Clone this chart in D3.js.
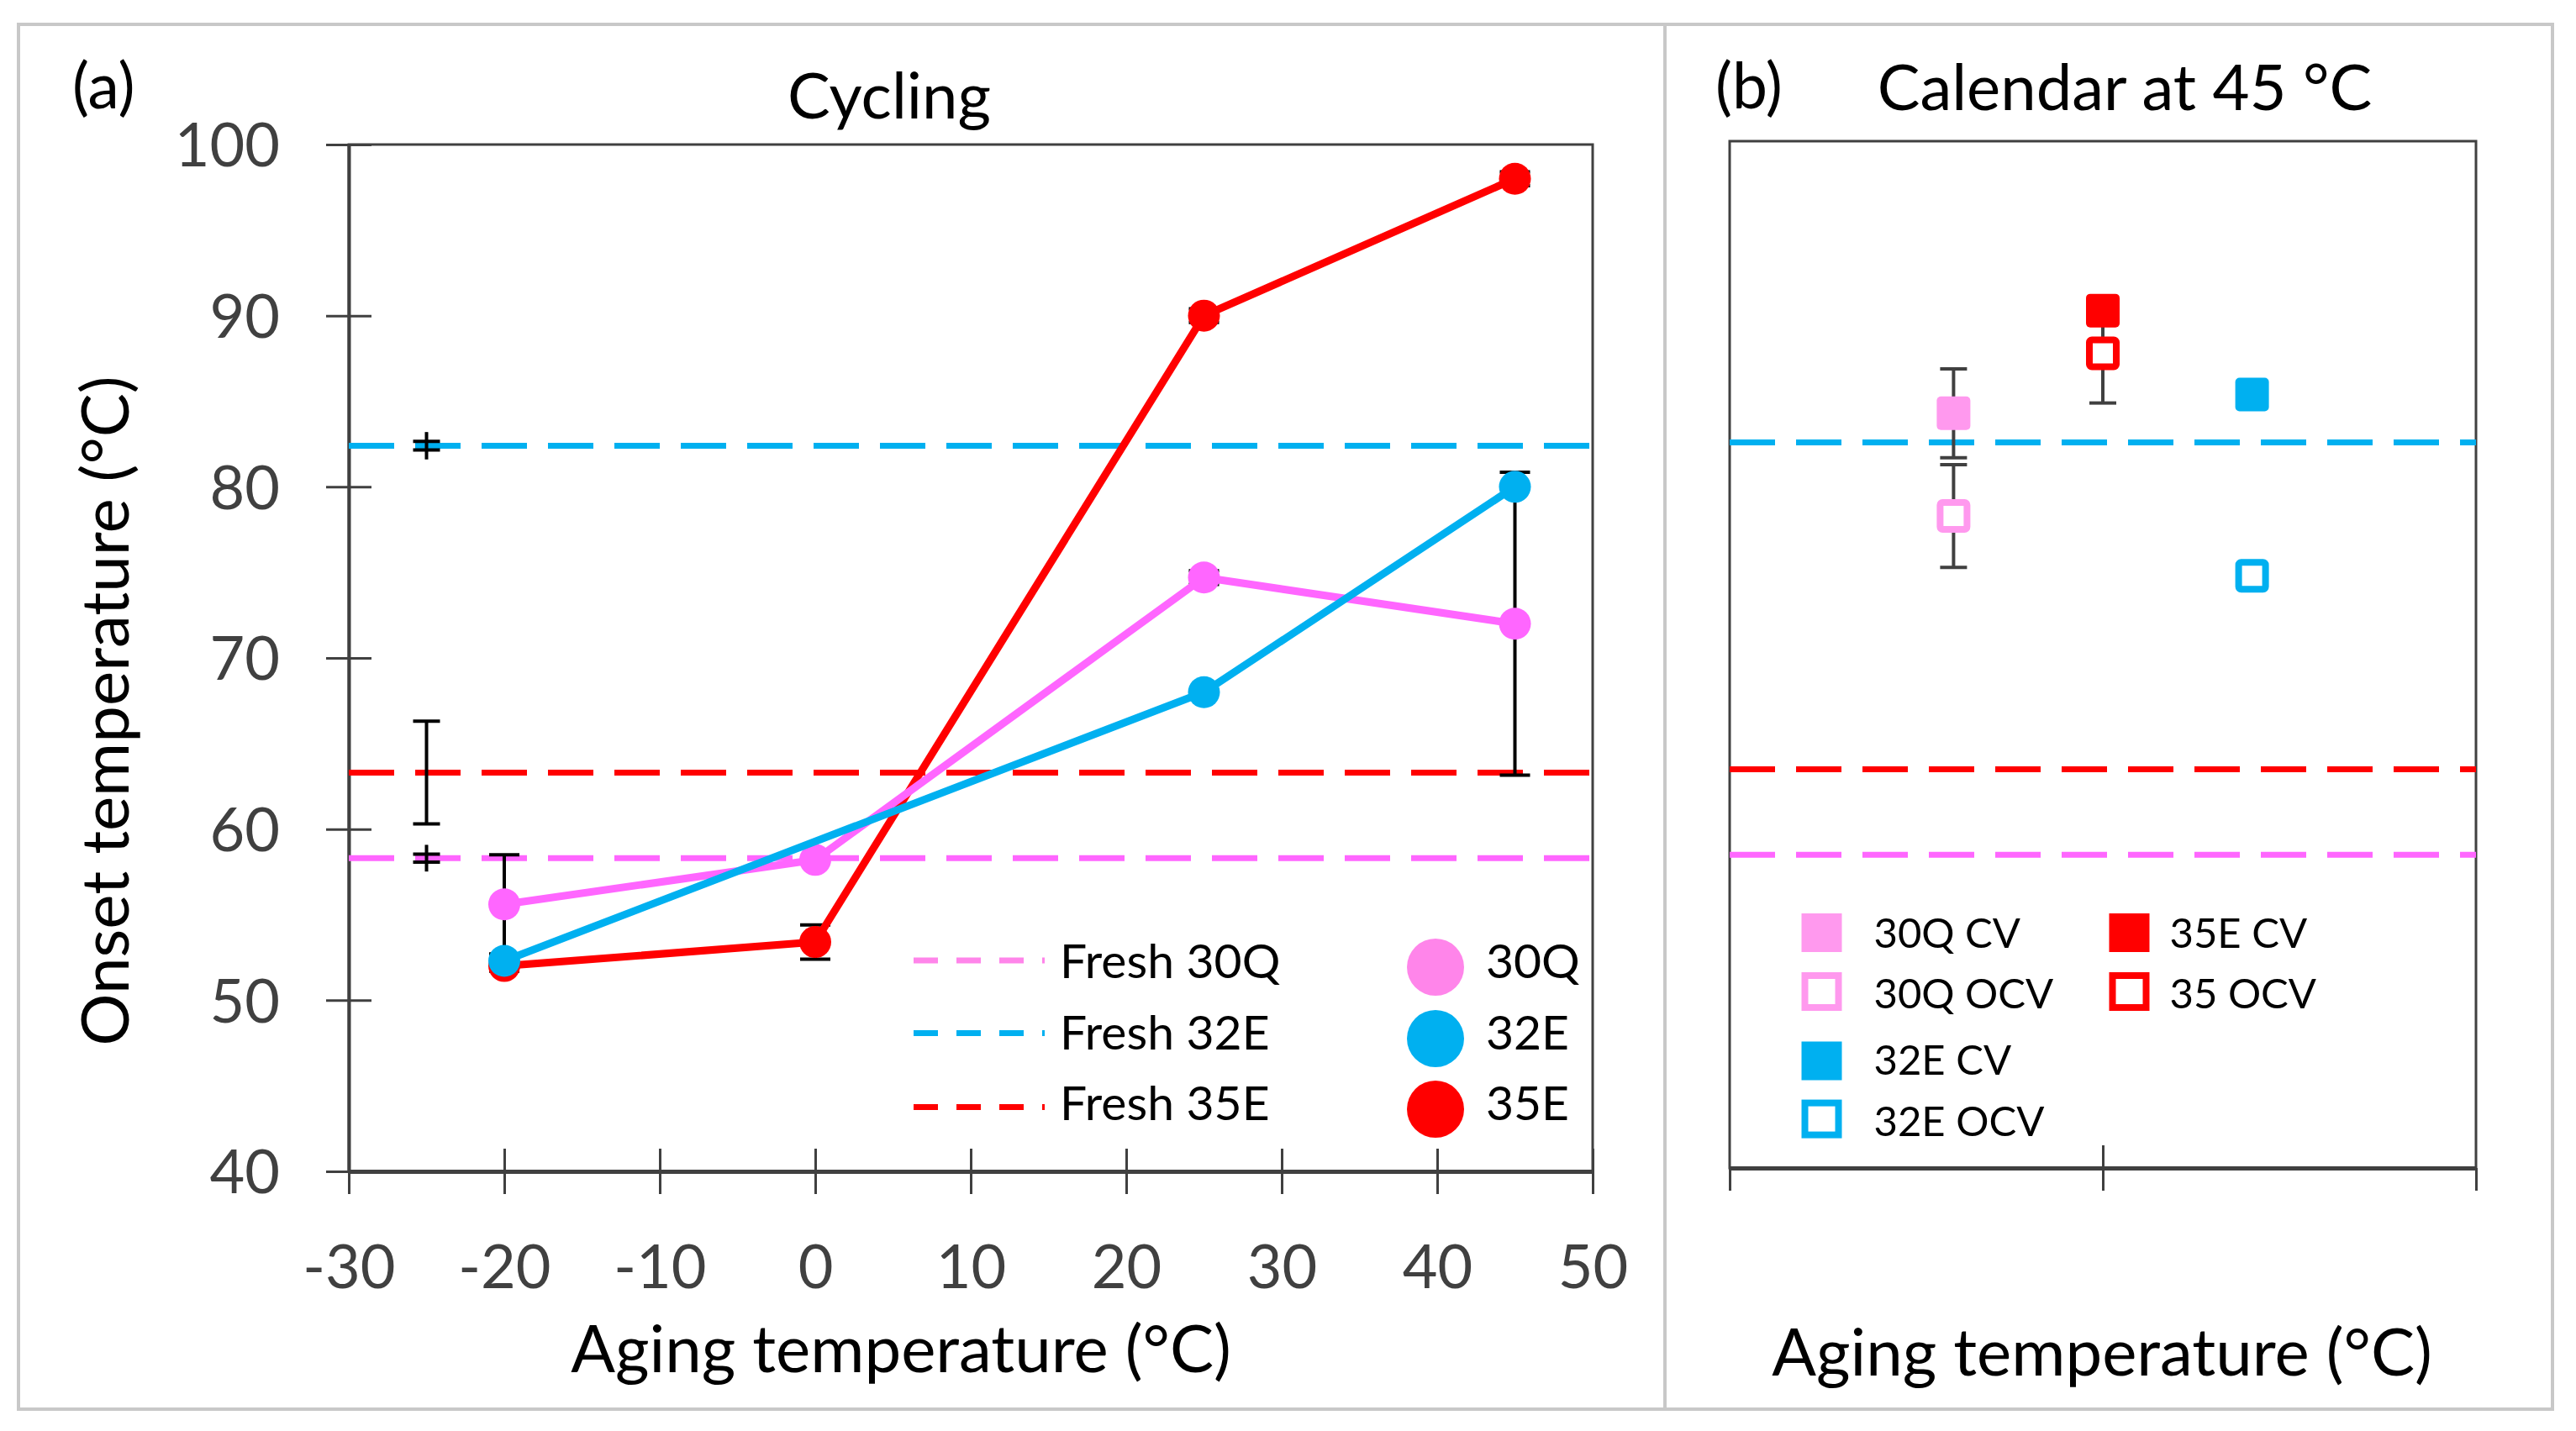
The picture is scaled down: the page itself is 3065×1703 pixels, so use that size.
<!DOCTYPE html>
<html>
<head>
<meta charset="utf-8">
<script src="https://cdn.jsdelivr.net/npm/d3@7"></script>
<style>
  body { margin: 0; background: #fff; }
  svg { display: block; font-family: Lato, "Open Sans", sans-serif; }
</style>
</head>
<body>
<svg id="chart" width="3065" height="1703"></svg>
<script>
// ---- data ----
const xTicks = [-30, -20, -10, 0, 10, 20, 30, 40, 50];
const yTicks = [40, 50, 60, 70, 80, 90, 100];

// (a) cycling, onset temperature vs aging temperature
const agingTemp = [-20, 0, 25, 45];
const onset30Q = [55.6, 58.2, 74.7, 72.0];
const onset32E = [52.3, null, 68.0, 80.0];
const onset35E = [52.0, 53.4, 90.0, 98.0];
const err30Q = [2.9, 0, 0.4, 8.85];
const err32E = [1.0, 0, 0.4, 0];
const err35E = [0.3, 1.0, 0.4, 0.4];

// fresh cells (dashed reference lines), error bars drawn at x = -25
const freshNames = ["Fresh 30Q", "Fresh 32E", "Fresh 35E"];
const freshOnset = [58.3, 82.4, 63.3];
const freshErrCap = [0.23, 0.25, 3.0];
const freshErrLine = [0.78, 0.8, 3.0];
const freshX = -25;

// (b) calendar at 45 °C
const calCells = ["30Q", "35E", "32E"];
const calPos = [0.6, 1.0, 1.4];
const calCV = [84.1, 90.1, 85.2];
const calOCV = [78.1, 87.6, 74.6];
const calCVErr = [2.6, 0, 0];
const calOCVErr = [3.0, 2.9, 0];
const calLegend = ["30Q CV", "30Q OCV", "32E CV", "32E OCV", "35E CV", "35 OCV"];

const pink = "#ff66ff", pinkLight = "#ff85ea", pinkCal = "#ff99ee";
const blue = "#00b0f0", red = "#ff0000", axisCol = "#404040";
const colorOf = { "30Q": pink, "32E": blue, "35E": red };

const svg = d3.select("#chart");

// outer frame and divider
svg.append("rect").attr("x", 22).attr("y", 29).attr("width", 3015).attr("height", 1648)
  .attr("fill", "none").attr("stroke", "#c8c8c8").attr("stroke-width", 4);
svg.append("line").attr("x1", 1981).attr("x2", 1981).attr("y1", 29).attr("y2", 1677)
  .attr("stroke", "#c8c8c8").attr("stroke-width", 4);

// ================= panel (a) =================
const xA = d3.scaleLinear().domain([-30, 50]).range([415, 1895]);
const yA = d3.scaleLinear().domain([40, 100]).range([1394, 172]);

svg.append("rect").attr("x", xA(-30)).attr("y", yA(100))
  .attr("width", xA(50) - xA(-30)).attr("height", yA(40) - yA(100))
  .attr("fill", "none").attr("stroke", axisCol).attr("stroke-width", 3);

const gx = svg.append("g").attr("transform", `translate(0,${yA(40)})`)
  .call(d3.axisBottom(xA).tickValues(xTicks).tickSize(27).tickSizeOuter(0).tickFormat(d => String(d)));
gx.attr("font-family", null).attr("font-size", 72);
gx.select(".domain").attr("stroke", axisCol).attr("stroke-width", 5);
gx.selectAll(".tick line").attr("y1", -27).attr("y2", 27).attr("stroke", axisCol).attr("stroke-width", 3);
gx.selectAll(".tick text").attr("y", 139).attr("dy", 0).attr("fill", axisCol);

const gy = svg.append("g").attr("transform", `translate(${xA(-30)},0)`)
  .call(d3.axisLeft(yA).tickValues(yTicks).tickSize(27).tickPadding(55).tickSizeOuter(0).tickFormat(d => String(d)));
gy.attr("font-family", null).attr("font-size", 72);
gy.select(".domain").attr("stroke", axisCol).attr("stroke-width", 4);
gy.selectAll(".tick line").attr("x1", -27).attr("x2", 27).attr("stroke", axisCol).attr("stroke-width", 3);
gy.selectAll(".tick text").attr("dy", "0.36em").attr("fill", axisCol);

// fresh dashed lines
const fresh = freshNames.map((n, i) => ({
  name: n, v: freshOnset[i], cap: freshErrCap[i], ext: freshErrLine[i],
  color: [pink, blue, red][i]
}));
svg.append("g").selectAll("line").data(fresh).join("line")
  .attr("x1", xA(-30)).attr("x2", xA(50))
  .attr("y1", d => yA(d.v)).attr("y2", d => yA(d.v))
  .attr("stroke", d => d.color).attr("stroke-width", 7).attr("stroke-dasharray", "54 25");

// fresh error bars at x=-25
const fe = svg.append("g").attr("stroke", "#000").attr("stroke-width", 4);
fresh.forEach(d => {
  const x = xA(freshX);
  fe.append("line").attr("x1", x).attr("x2", x).attr("y1", yA(d.v - d.ext)).attr("y2", yA(d.v + d.ext));
  [d.v - d.cap, d.v + d.cap].forEach(c =>
    fe.append("line").attr("x1", x - 16).attr("x2", x + 16).attr("y1", yA(c)).attr("y2", yA(c)));
});

// cycling series
const series = [
  { name: "35E", color: red, values: onset35E, err: err35E, cap: 36 },
  { name: "30Q", color: pink, values: onset30Q, err: err30Q, cap: 36 },
  { name: "32E", color: blue, values: onset32E, err: err32E, cap: 0 }
];
const eg = svg.append("g").attr("stroke", "#000").attr("stroke-width", 4);
series.forEach(s => {
  s.values.forEach((v, i) => {
    const e = s.err[i];
    if (v == null || !e) return;
    const x = xA(agingTemp[i]);
    eg.append("line").attr("x1", x).attr("x2", x).attr("y1", yA(v - e)).attr("y2", yA(v + e));
    if (s.cap) [v - e, v + e].forEach(c =>
      eg.append("line").attr("x1", x - s.cap / 2).attr("x2", x + s.cap / 2).attr("y1", yA(c)).attr("y2", yA(c)));
  });
});

const line = d3.line().x(d => xA(d.x)).y(d => yA(d.y));
series.forEach(s => {
  const pts = s.values.map((v, i) => ({ x: agingTemp[i], y: v })).filter(d => d.y != null);
  const g = svg.append("g");
  g.append("path").datum(pts).attr("d", line).attr("fill", "none")
    .attr("stroke", s.color).attr("stroke-width", 9).attr("stroke-linejoin", "round");
  g.selectAll("circle").data(pts).join("circle")
    .attr("cx", d => xA(d.x)).attr("cy", d => yA(d.y)).attr("r", 19).attr("fill", s.color);
});

// legend (a)
const legA = svg.append("g").attr("font-size", 57).attr("fill", "#000");
const legRowsY = [1164, 1249, 1333];
const legLineY = [1143, 1229.5, 1317.6];
fresh.forEach((d, i) => {
  legA.append("line").attr("x1", 1087).attr("x2", 1243).attr("y1", legLineY[i]).attr("y2", legLineY[i])
    .attr("stroke", i === 0 ? pinkLight : d.color).attr("stroke-width", 7).attr("stroke-dasharray", "29 22");
  legA.append("text").attr("x", 1261).attr("y", legRowsY[i]).text(d.name);
});
["30Q", "32E", "35E"].forEach((n, i) => {
  legA.append("circle").attr("cx", 1708).attr("cy", legRowsY[i] - 13).attr("r", 34)
    .attr("fill", n === "30Q" ? pinkLight : colorOf[n]);
  legA.append("text").attr("x", 1768).attr("y", legRowsY[i]).text(n);
});

// titles (a)
svg.append("text").attr("x", 86).attr("y", 129).attr("font-size", 75).text("(a)");
svg.append("text").attr("x", 1058).attr("y", 141).attr("font-size", 76).attr("text-anchor", "middle").text("Cycling");
svg.append("text").attr("x", 1072).attr("y", 1633).attr("font-size", 78).attr("text-anchor", "middle")
  .text("Aging temperature (°C)");
svg.append("text").attr("transform", "translate(153,846) rotate(-90)").attr("font-size", 78)
  .attr("text-anchor", "middle").text("Onset temperature (°C)");

// ================= panel (b) =================
const xB = d3.scaleLinear().domain([0, 2]).range([2058, 2946]);
const yB = d3.scaleLinear().domain([40, 100]).range([1390, 168]);

svg.append("rect").attr("x", xB(0)).attr("y", yB(100))
  .attr("width", xB(2) - xB(0)).attr("height", yB(40) - yB(100))
  .attr("fill", "none").attr("stroke", axisCol).attr("stroke-width", 3);

const gxb = svg.append("g").attr("transform", `translate(0,${yB(40)})`)
  .call(d3.axisBottom(xB).tickValues([0, 1, 2]).tickSize(27).tickSizeOuter(0).tickFormat(""));
gxb.select(".domain").attr("stroke", axisCol).attr("stroke-width", 5);
gxb.selectAll(".tick line").attr("stroke", axisCol).attr("stroke-width", 3)
  .attr("y1", d => d === 1 ? -27 : 0);

svg.append("g").selectAll("line").data(fresh).join("line")
  .attr("x1", xB(0)).attr("x2", xB(2))
  .attr("y1", d => yB(d.v)).attr("y2", d => yB(d.v))
  .attr("stroke", d => d.color).attr("stroke-width", 7).attr("stroke-dasharray", "54 25");

const cal = calCells.map((c, i) => ({
  cell: c, x: calPos[i], cv: calCV[i], ocv: calOCV[i], cvErr: calCVErr[i], ocvErr: calOCVErr[i],
  color: c === "30Q" ? pinkCal : colorOf[c]
}));

const ebg = svg.append("g").attr("stroke", axisCol).attr("stroke-width", 4);
cal.forEach(d => {
  [[d.cv, d.cvErr], [d.ocv, d.ocvErr]].forEach(([v, e]) => {
    if (!e) return;
    const x = xB(d.x);
    ebg.append("line").attr("x1", x).attr("x2", x).attr("y1", yB(v - e)).attr("y2", yB(v + e));
    [v - e, v + e].forEach(c =>
      ebg.append("line").attr("x1", x - 16).attr("x2", x + 16).attr("y1", yB(c)).attr("y2", yB(c)));
  });
});

const mk = svg.append("g");
cal.forEach(d => {
  const x = xB(d.x);
  mk.append("rect").attr("x", x - 20).attr("y", yB(d.cv) - 20).attr("width", 40).attr("height", 40)
    .attr("rx", 5).attr("fill", d.color);
  mk.append("rect").attr("x", x - 16).attr("y", yB(d.ocv) - 16).attr("width", 32).attr("height", 32)
    .attr("rx", 3).attr("fill", "#fff").attr("stroke", d.color).attr("stroke-width", 8);
});

// legend (b)
const legB = svg.append("g").attr("font-size", 49).attr("fill", "#000");
const legBItems = [
  { label: calLegend[0], color: pinkCal, open: false, col: 0, row: 0 },
  { label: calLegend[1], color: pinkCal, open: true, col: 0, row: 1 },
  { label: calLegend[2], color: blue, open: false, col: 0, row: 2 },
  { label: calLegend[3], color: blue, open: true, col: 0, row: 3 },
  { label: calLegend[4], color: red, open: false, col: 1, row: 0 },
  { label: calLegend[5], color: red, open: true, col: 1, row: 1 }
];
const legBSqX = [2167.5, 2533.5], legBTxtX = [2229.5, 2581.5];
const legBSqY = [1110, 1180, 1262.5, 1331.6], legBTxtY = [1128, 1199.5, 1279, 1351.6];
legBItems.forEach(d => {
  const cx = legBSqX[d.col], cy = legBSqY[d.row];
  if (d.open) {
    legB.append("rect").attr("x", cx - 20).attr("y", cy - 19).attr("width", 40).attr("height", 38)
      .attr("fill", "#fff").attr("stroke", d.color).attr("stroke-width", 8);
  } else {
    legB.append("rect").attr("x", cx - 24).attr("y", cy - 23).attr("width", 48).attr("height", 46)
      .attr("fill", d.color);
  }
  legB.append("text").attr("x", legBTxtX[d.col]).attr("y", legBTxtY[d.row]).text(d.label);
});

// titles (b)
svg.append("text").attr("x", 2041).attr("y", 129).attr("font-size", 75).text("(b)");
svg.append("text").attr("x", 2528).attr("y", 131).attr("font-size", 76).attr("text-anchor", "middle")
  .text("Calendar at 45 °C");
svg.append("text").attr("x", 2501).attr("y", 1637).attr("font-size", 78).attr("text-anchor", "middle")
  .text("Aging temperature (°C)");
</script>
</body>
</html>
